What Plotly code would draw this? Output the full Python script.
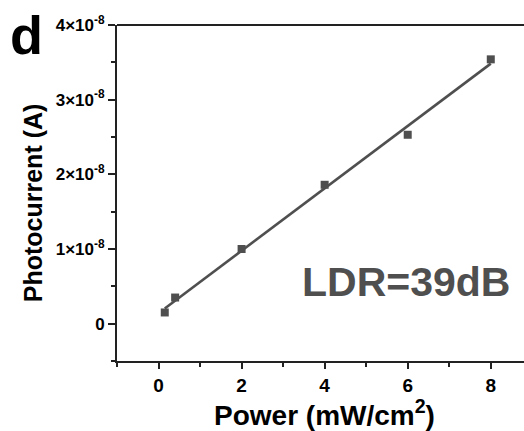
import numpy as np
import plotly.graph_objects as go

# Data
power = [0.15, 0.4, 2, 4, 6, 8]                        # mW/cm^2
current = [0.15e-8, 0.35e-8, 1.0e-8, 1.86e-8, 2.53e-8, 3.54e-8]  # A

y_tickvals = [0, 1e-8, 2e-8, 3e-8, 4e-8]
y_ticktext = ["0", "1×10<sup>-8</sup>", "2×10<sup>-8</sup>", "3×10<sup>-8</sup>", "4×10<sup>-8</sup>"]
y_minorvals = [-0.5e-8, 0.5e-8, 1.5e-8, 2.5e-8, 3.5e-8]
x_tickvals = [0, 2, 4, 6, 8]
x_minorvals = [-1, 1, 3, 5, 7]

# linear fit of the data
slope, intercept = np.polyfit(power, current, 1)
fit_x = [min(power), max(power)]
fit_y = [slope * v + intercept for v in fit_x]

FONT = "Liberation Sans, Arial, sans-serif"
GREY = "#4f4f4f"

fig = go.Figure()
fig.add_trace(go.Scatter(x=fit_x, y=fit_y, mode="lines",
                         line=dict(color=GREY, width=2.6), showlegend=False))
fig.add_trace(go.Scatter(x=power, y=current, mode="markers",
                         marker=dict(symbol="square", size=8, color=GREY),
                         showlegend=False))

fig.update_layout(
    width=524, height=431,
    margin=dict(l=117, r=0, t=25, b=70),
    paper_bgcolor="white", plot_bgcolor="white",
    font=dict(family=FONT, color="black"),
    xaxis=dict(
        range=[-1, 8.8], showgrid=False, zeroline=False,
        showline=True, linecolor="#222", linewidth=2,
        tickmode="array", tickvals=x_tickvals,
        ticks="outside", ticklen=6, tickwidth=1.5, tickcolor="#222",
        tickfont=dict(size=19, family=FONT, weight="bold"),
        minor=dict(tickmode="array", tickvals=x_minorvals, ticks="outside",
                   ticklen=4, tickwidth=1.5, tickcolor="#222"),
    ),
    yaxis=dict(
        range=[-0.5e-8, 4e-8], showgrid=False, zeroline=False,
        showline=True, linecolor="#222", linewidth=2,
        tickmode="array", tickvals=y_tickvals, ticktext=y_ticktext,
        ticks="outside", ticklen=7, tickwidth=1.5, tickcolor="#222",
        tickfont=dict(size=17, family=FONT, weight="bold"),
        minor=dict(tickmode="array", tickvals=y_minorvals, ticks="outside",
                   ticklen=4, tickwidth=1.5, tickcolor="#222"),
    ),
)

# top frame line
fig.add_shape(type="line", xref="paper", yref="paper", x0=0, x1=1, y0=1, y1=1,
              line=dict(color="#222", width=2))

# axis titles
fig.add_annotation(text="<b>Power (mW/cm<sup>2</sup>)</b>", xref="paper", yref="paper",
                   x=0.511, y=-0.155, xanchor="center", yanchor="middle",
                   showarrow=False, font=dict(size=28, family=FONT, color="black"))
fig.add_annotation(text="<b>Photocurrent (A)</b>", xref="paper", yref="paper",
                   x=-0.206, y=0.47, xanchor="center", yanchor="middle", textangle=-90,
                   showarrow=False, font=dict(size=25, family=FONT, color="black"))

fig.add_annotation(text="<b>d</b>", xref="paper", yref="paper",
                   x=-0.222, y=0.97, xanchor="center", yanchor="middle",
                   showarrow=False, font=dict(size=54, family=FONT, color="black"))
fig.add_annotation(text="<b>LDR=39dB</b>", xref="paper", yref="paper",
                   x=0.71, y=0.234, xanchor="center", yanchor="middle",
                   showarrow=False, font=dict(size=41, family=FONT, color=GREY))

fig.write_html("out.html", config={"displayModeBar": False},
               post_script="document.body.style.margin='0px';")
